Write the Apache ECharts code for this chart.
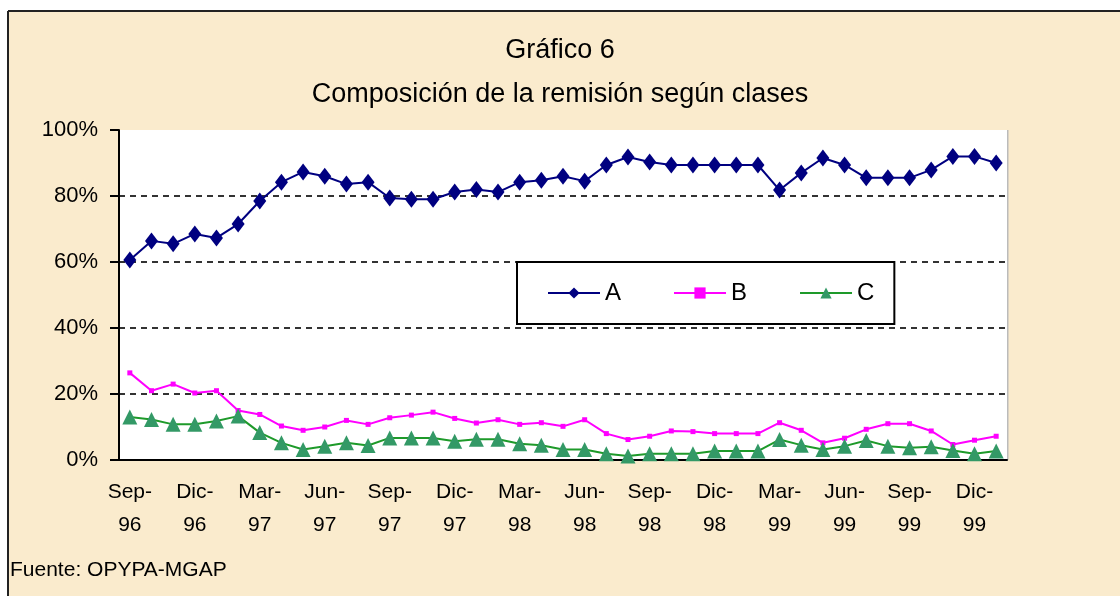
<!DOCTYPE html>
<html>
<head>
<meta charset="utf-8">
<script src="https://cdn.jsdelivr.net/npm/echarts@6/dist/echarts.min.js"></script>
<style>
  html, body { margin: 0; padding: 0; background: #fff; }
  #main { width: 1120px; height: 596px; }
</style>
</head>
<body>
<div id="main"></div>
<script>
// meses (Sep-96 .. Ene-00)
const months = [
  'Sep-\n96', 'Oct-\n96', 'Nov-\n96', 'Dic-\n96', 'Ene-\n97', 'Feb-\n97',
  'Mar-\n97', 'Abr-\n97', 'May-\n97', 'Jun-\n97', 'Jul-\n97', 'Ago-\n97',
  'Sep-\n97', 'Oct-\n97', 'Nov-\n97', 'Dic-\n97', 'Ene-\n98', 'Feb-\n98',
  'Mar-\n98', 'Abr-\n98', 'May-\n98', 'Jun-\n98', 'Jul-\n98', 'Ago-\n98',
  'Sep-\n98', 'Oct-\n98', 'Nov-\n98', 'Dic-\n98', 'Ene-\n99', 'Feb-\n99',
  'Mar-\n99', 'Abr-\n99', 'May-\n99', 'Jun-\n99', 'Jul-\n99', 'Ago-\n99',
  'Sep-\n99', 'Oct-\n99', 'Nov-\n99', 'Dic-\n99', 'Ene-\n00'
];

const claseA = [
  60.6, 66.4, 65.5, 68.5, 67.3, 71.5, 78.5, 84.2, 87.3, 86.0,
  83.6, 84.2, 79.4, 79.0, 79.0, 81.2, 82.0, 81.2, 84.2, 84.8,
  86.0, 84.5, 89.4, 91.8, 90.3, 89.4, 89.4, 89.4, 89.4, 89.4,
  81.8, 87.0, 91.5, 89.4, 85.5, 85.5, 85.5, 87.9, 92.0, 92.0,
  90.0
];

const claseB = [
  26.4, 21.0, 23.0, 20.3, 21.0, 15.0, 13.8, 10.3, 9.0, 10.0,
  12.0, 10.8, 12.8, 13.6, 14.5, 12.6, 11.2, 12.2, 10.8, 11.3,
  10.2, 12.2, 8.0, 6.2, 7.2, 8.8, 8.6, 8.0, 8.0, 8.0,
  11.3, 9.0, 5.2, 6.6, 9.3, 11.0, 11.0, 8.8, 4.7, 6.0,
  7.2
];

const claseC = [
  13.0, 12.3, 10.8, 10.8, 11.8, 13.3, 8.3, 5.2, 3.2, 4.2,
  5.2, 4.4, 6.7, 6.7, 6.7, 5.7, 6.3, 6.3, 4.9, 4.5,
  3.2, 3.2, 1.9, 1.2, 1.9, 1.9, 1.9, 2.7, 2.7, 2.7,
  6.2, 4.5, 3.2, 4.2, 5.9, 4.2, 3.7, 4.0, 2.9, 1.9,
  2.7
];

const yTicks = [0, 20, 40, 60, 80, 100];

const FONT = '"Liberation Sans", Arial, sans-serif';

const myChart = echarts.init(document.getElementById('main'));

const option = {
  backgroundColor: '#fff',
  animation: false,
  textStyle: { fontFamily: FONT, color: '#000' },
  graphic: [
    { type: 'rect', z: -10, shape: { x: 9, y: 12, width: 1111, height: 584 }, style: { fill: '#faebcd' } },
    { type: 'line', z: -9, shape: { x1: 8, y1: 11, x2: 1120, y2: 11 }, style: { stroke: '#222', lineWidth: 2 } },
    { type: 'line', z: -9, shape: { x1: 8, y1: 11, x2: 8, y2: 596 }, style: { stroke: '#222', lineWidth: 2 } },
    { type: 'line', z: -8, shape: { x1: 1007.5, y1: 130, x2: 1007.5, y2: 460 }, style: { stroke: '#bbb', lineWidth: 2 } },
    {
      type: 'text', left: 10, top: 560,
      style: { text: 'Fuente: OPYPA-MGAP', font: '21px ' + FONT, fill: '#000' }
    }
  ],
  title: {
    text: 'Gráfico 6\nComposición de la remisión según clases',
    left: 'center',
    top: 24,
    textStyle: { fontFamily: FONT, fontSize: 27, fontWeight: 'normal', lineHeight: 44, color: '#000' }
  },
  legend: {
    data: ['A', 'B', 'C'],
    left: 517,
    top: 262,
    orient: 'horizontal',
    padding: [19, 20, 19, 30],
    itemWidth: 52,
    itemHeight: 14,
    itemGap: 52,
    backgroundColor: '#fff',
    borderColor: '#000',
    borderWidth: 2,
    borderRadius: 0,
    textStyle: { fontFamily: FONT, fontSize: 24, color: '#000' }
  },
  grid: {
    left: 119,
    right: 113,
    top: 130,
    bottom: 136,
    show: true,
    backgroundColor: '#fff',
    borderWidth: 0
  },
  xAxis: {
    type: 'category',
    data: months,
    boundaryGap: true,
    axisLine: { lineStyle: { color: '#000', width: 2 } },
    axisTick: { interval: 2, length: 8, lineStyle: { color: '#000', width: 2 } },
    axisLabel: {
      interval: 2,
      margin: 16,
      fontFamily: FONT,
      fontSize: 21,
      lineHeight: 33,
      color: '#000'
    }
  },
  yAxis: {
    type: 'value',
    min: yTicks[0],
    max: yTicks[yTicks.length - 1],
    interval: 20,
    axisLine: { show: true, lineStyle: { color: '#000', width: 2 } },
    axisTick: { show: true, inside: false, length: 9, lineStyle: { color: '#000', width: 2 } },
    axisLabel: {
      formatter: '{value}%',
      margin: 21,
      fontFamily: FONT,
      fontSize: 22,
      color: '#000'
    },
    splitLine: {
      show: true,
      showMinLine: false,
      showMaxLine: false,
      lineStyle: { color: '#333', width: 2, type: [6, 5] }
    }
  },
  series: [
    {
      name: 'A',
      type: 'line',
      data: claseA,
      symbol: 'diamond',
      symbolSize: [13, 17],
      showAllSymbol: true,
      lineStyle: { color: '#000080', width: 2 },
      itemStyle: { color: '#000080' }
    },
    {
      name: 'B',
      type: 'line',
      data: claseB,
      symbol: 'rect',
      symbolSize: 5,
      showAllSymbol: true,
      lineStyle: { color: '#ff00ff', width: 2 },
      itemStyle: { color: '#ff00ff' }
    },
    {
      name: 'C',
      type: 'line',
      data: claseC,
      symbol: 'triangle',
      symbolSize: [15, 15],
      showAllSymbol: true,
      lineStyle: { color: '#1e9a2a', width: 2 },
      itemStyle: { color: '#339966' }
    }
  ]
};

myChart.setOption(option);
</script>
</body>
</html>
